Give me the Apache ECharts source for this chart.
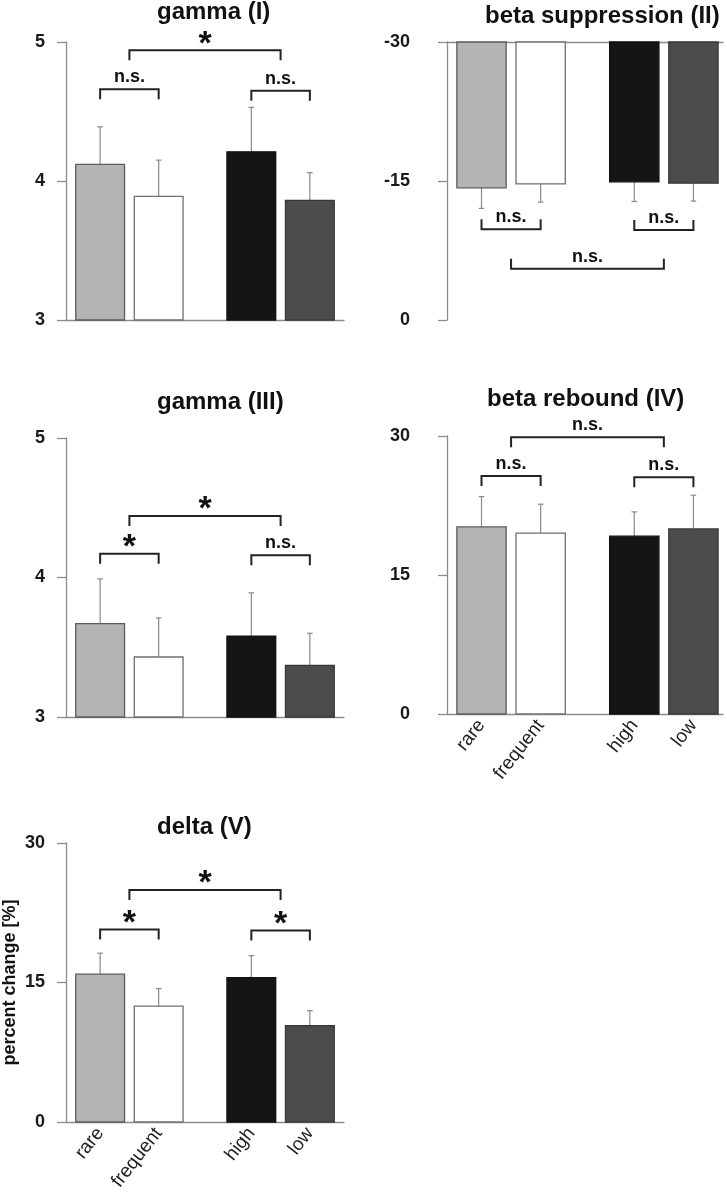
<!DOCTYPE html>
<html>
<head>
<meta charset="utf-8">
<script src="https://cdn.jsdelivr.net/npm/echarts@6/dist/echarts.min.js"></script>
<style>
  html, body { margin: 0; padding: 0; background: #fff; }
  #chart { width: 727px; height: 1199px; }
</style>
</head>
<body>
<div id="chart"></div>
<script>
// conditions, same order in every panel
var conditions = ['rare', 'frequent', 'high', 'low'];

// gamma (I)
var gamma1Mean = [4.12, 3.89, 4.21, 3.86];
var gamma1Err  = [0.27, 0.26, 0.32, 0.20];
var gamma1Sig  = ['n.s.', 'n.s.', '*'];   // rare-frequent, high-low, main effect

// beta suppression (II)
var betaSupMean = [-14.26, -14.69, -14.91, -14.77];
var betaSupErr  = [2.22, 1.97, 2.12, 1.94];
var betaSupSig  = ['n.s.', 'n.s.', 'n.s.'];

// gamma (III)
var gamma3Mean = [3.67, 3.43, 3.58, 3.37];
var gamma3Err  = [0.32, 0.28, 0.31, 0.23];
var gamma3Sig  = ['*', 'n.s.', '*'];

// beta rebound (IV)
var betaRebMean = [20.19, 19.51, 19.19, 19.97];
var betaRebErr  = [3.27, 3.13, 2.62, 3.64];
var betaRebSig  = ['n.s.', 'n.s.', 'n.s.'];

// delta (V)
var deltaMean = [15.89, 12.47, 15.52, 10.35];
var deltaErr  = [2.26, 1.87, 2.37, 1.62];
var deltaSig  = ['*', '*', '*'];

// tick labels
var gammaTicks   = [3, 4, 5];
var betaSupTicks = [-30, -15, 0];
var pctTicks     = [0, 15, 30];

// layout (bar slots in bar-width units, like R barplot space=0.2 / 0.9)
var BAR_X = [0.7, 1.9, 3.8, 5.0];
var BAR_FILL = ['#b4b4b4', '#ffffff', '#151515', '#4c4c4c'];
var BAR_STROKE = ['#5c5c5c', '#707070', '#111111', '#383838'];
var FONT = '"Liberation Sans", Arial, Helvetica, sans-serif';

var chart = echarts.init(document.getElementById('chart'));

var grids = [], xAxes = [], yAxes = [], series = [], titles = [];

function addPanel(p) {
    var i = grids.length;
    var base = p.ticks[0];
    grids.push({ left: p.left, top: p.top, width: p.width, height: p.height });
    titles.push({
        text: p.title, left: p.titleLeft, top: p.titleTop, padding: 0,
        textStyle: { fontSize: 24, fontWeight: 'bold', color: '#111', fontFamily: FONT }
    });
    xAxes.push({
        type: 'value', gridIndex: i, min: 0, max: p.xMax,
        position: p.inverse ? 'top' : 'bottom',
        axisLine: { show: true, onZero: false, lineStyle: { color: '#8c8c8c', width: 1.3 } },
        axisTick: { show: false },
        splitLine: { show: false },
        axisLabel: p.xLabels ? {
            show: true, customValues: BAR_X, rotate: 52, margin: 8,
            fontSize: 19, color: '#222', fontFamily: FONT,
            formatter: function (v) {
                for (var k = 0; k < BAR_X.length; k++) {
                    if (Math.abs(BAR_X[k] - v) < 1e-6) return conditions[k];
                }
                return '';
            }
        } : { show: false }
    });
    yAxes.push({
        type: 'value', gridIndex: i, min: base, max: p.ticks[p.ticks.length - 1],
        interval: p.ticks[1] - p.ticks[0], inverse: !!p.inverse, offset: p.yOffset,
        name: p.yName || '', nameLocation: 'middle', nameGap: 42,
        nameTextStyle: { fontSize: 18, fontWeight: 'bold', color: '#111', fontFamily: FONT },
        axisLine: { show: true, lineStyle: { color: '#8c8c8c', width: 1.3 } },
        axisTick: { show: true, length: 9, lineStyle: { color: '#8c8c8c', width: 1.3 } },
        splitLine: { show: false },
        axisLabel: { margin: 16, fontSize: 18, fontWeight: 'bold', color: '#1a1a1a', fontFamily: FONT }
    });

    var barData = p.mean.map(function (m, k) { return [BAR_X[k], m, p.err[k]]; });
    series.push({
        type: 'custom', xAxisIndex: i, yAxisIndex: i, data: barData,
        renderItem: function (params, api) {
            var k = params.dataIndex;
            var pos = api.value(0), mean = api.value(1), err = api.value(2);
            var dir = mean >= base ? 1 : -1;
            var a = api.coord([pos - 0.5, base]);
            var b = api.coord([pos + 0.5, mean]);
            var pm = api.coord([pos, mean]);
            var pe = api.coord([pos, mean + dir * err]);
            var ebStyle = { stroke: '#8a8a8a', lineWidth: 1.2 };
            return {
                type: 'group',
                children: [
                    { type: 'line', shape: { x1: pm[0], y1: pm[1], x2: pe[0], y2: pe[1] }, style: ebStyle },
                    { type: 'line', shape: { x1: pe[0] - 2.8, y1: pe[1], x2: pe[0] + 2.8, y2: pe[1] }, style: ebStyle },
                    {
                        type: 'rect',
                        shape: {
                            x: Math.min(a[0], b[0]), y: Math.min(a[1], b[1]),
                            width: Math.abs(b[0] - a[0]), height: Math.abs(b[1] - a[1])
                        },
                        style: { fill: BAR_FILL[k], stroke: BAR_STROKE[k], lineWidth: 1.3 }
                    }
                ]
            };
        }
    });

    // significance brackets: rare-frequent, high-low, pair means
    var mid1 = (BAR_X[0] + BAR_X[1]) / 2, mid2 = (BAR_X[2] + BAR_X[3]) / 2;
    var brData = [
        [BAR_X[0], BAR_X[1], p.brY[0]],
        [BAR_X[2], BAR_X[3], p.brY[1]],
        [mid1, mid2, p.brY[2]]
    ];
    series.push({
        type: 'custom', xAxisIndex: i, yAxisIndex: i, data: brData,
        renderItem: function (params, api) {
            var k = params.dataIndex;
            var a = api.coord([api.value(0), api.value(2)]);
            var b = api.coord([api.value(1), api.value(2)]);
            var baseY = api.coord([api.value(0), base])[1];
            var d = baseY > a[1] ? 1 : -1;
            var leg = 10;
            var txt = p.sig[k];
            var star = txt === '*';
            var off = star ? (d > 0 ? 6 : -18) : (d > 0 ? 12 : -12);
            return {
                type: 'group',
                children: [
                    {
                        type: 'polyline',
                        shape: { points: [[a[0], a[1] + d * leg], [a[0], a[1]], [b[0], b[1]], [b[0], b[1] + d * leg]] },
                        style: { fill: null, stroke: '#222', lineWidth: 2 }
                    },
                    {
                        type: 'text',
                        x: (a[0] + b[0]) / 2, y: a[1] - d * off,
                        style: {
                            text: txt, fill: '#111', align: 'center', verticalAlign: 'middle',
                            fontSize: star ? 34 : 18, fontWeight: 'bold', fontFamily: FONT
                        }
                    }
                ]
            };
        }
    });
}

addPanel({ title: 'gamma (I)', titleLeft: 157, titleTop: 0,
    left: 66, top: 42, width: 278, height: 278, xMax: 5.7, yOffset: 5,
    ticks: gammaTicks, mean: gamma1Mean, err: gamma1Err, sig: gamma1Sig,
    brY: [4.66, 4.65, 4.94] });

addPanel({ title: 'beta suppression (II)', titleLeft: 485, titleTop: 4,
    left: 447, top: 42, width: 276, height: 278, xMax: 5.6, yOffset: 21, inverse: true,
    ticks: betaSupTicks, mean: betaSupMean, err: betaSupErr, sig: betaSupSig,
    brY: [-9.78, -9.7, -5.53] });

addPanel({ title: 'gamma (III)', titleLeft: 157, titleTop: 390,
    left: 66, top: 438, width: 278, height: 279, xMax: 5.7, yOffset: 5,
    ticks: gammaTicks, mean: gamma3Mean, err: gamma3Err, sig: gamma3Sig,
    brY: [4.17, 4.16, 4.44] });

addPanel({ title: 'beta rebound (IV)', titleLeft: 487, titleTop: 387,
    left: 447, top: 436, width: 276, height: 278, xMax: 5.6, yOffset: 21, xLabels: true,
    ticks: pctTicks, mean: betaRebMean, err: betaRebErr, sig: betaRebSig,
    brY: [25.69, 25.55, 29.86] });

addPanel({ title: 'delta (V)', titleLeft: 157, titleTop: 815,
    left: 66, top: 843, width: 278, height: 279, xMax: 5.7, yOffset: 5, xLabels: true,
    yName: 'percent change [%]',
    ticks: pctTicks, mean: deltaMean, err: deltaErr, sig: deltaSig,
    brY: [20.70, 20.59, 24.94] });

chart.setOption({
    animation: false,
    backgroundColor: '#ffffff',
    title: titles,
    grid: grids,
    xAxis: xAxes,
    yAxis: yAxes,
    series: series
});
</script>
</body>
</html>
